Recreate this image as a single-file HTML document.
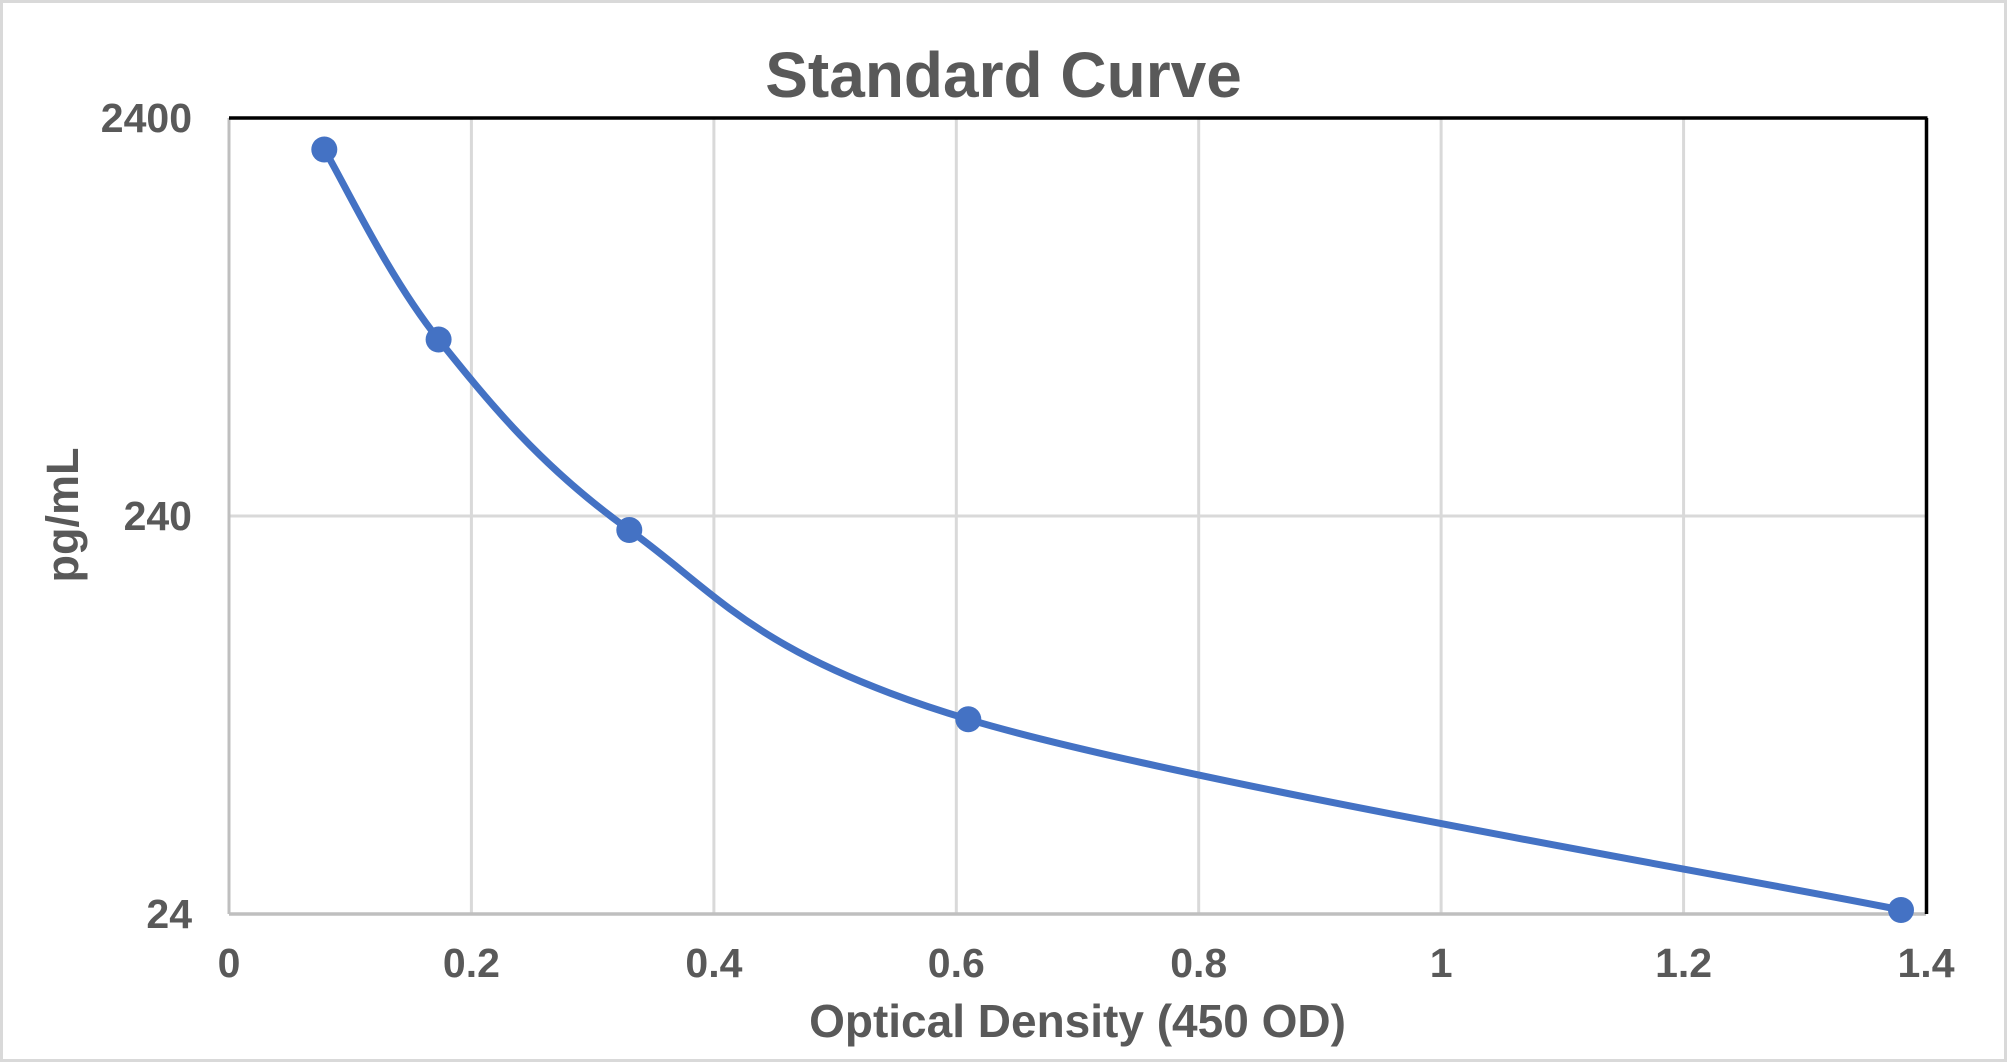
<!DOCTYPE html>
<html>
<head>
<meta charset="utf-8">
<style>
  html, body { margin: 0; padding: 0; background: #fff; }
  svg { display: block; }
  text { font-family: "Liberation Sans", Arial, sans-serif; font-weight: bold; fill: #595959; }
</style>
</head>
<body>
<svg width="2007" height="1062" viewBox="0 0 2007 1062" xmlns="http://www.w3.org/2000/svg">
  <rect x="0" y="0" width="2007" height="1062" fill="#ffffff"/>
  <rect x="1.5" y="1.5" width="2004" height="1059" fill="none" stroke="#d9d9d9" stroke-width="3"/>

  <!-- Title -->
  <text x="1003.5" y="97" font-size="64" text-anchor="middle">Standard Curve</text>

  <!-- vertical gridlines -->
  <g stroke="#d9d9d9" stroke-width="3">
    <line x1="471.4" y1="118" x2="471.4" y2="914"/>
    <line x1="713.9" y1="118" x2="713.9" y2="914"/>
    <line x1="956.3" y1="118" x2="956.3" y2="914"/>
    <line x1="1198.7" y1="118" x2="1198.7" y2="914"/>
    <line x1="1441.1" y1="118" x2="1441.1" y2="914"/>
    <line x1="1683.6" y1="118" x2="1683.6" y2="914"/>
    <!-- horizontal gridline at 240 -->
    <line x1="229" y1="516" x2="1926" y2="516"/>
  </g>

  <!-- axes -->
  <line x1="229" y1="118" x2="229" y2="914" stroke="#bfbfbf" stroke-width="3"/>
  <line x1="229" y1="914" x2="1926" y2="914" stroke="#bfbfbf" stroke-width="3.5"/>
  <line x1="229" y1="118" x2="1927.5" y2="118" stroke="#000" stroke-width="3.5"/>
  <line x1="1926.5" y1="118" x2="1926.5" y2="914" stroke="#000" stroke-width="3.5"/>

  <!-- Y tick labels -->
  <text x="192" y="132" font-size="41" text-anchor="end">2400</text>
  <text x="192" y="530" font-size="41" text-anchor="end">240</text>
  <text x="192" y="928" font-size="41" text-anchor="end">24</text>

  <!-- X tick labels -->
  <g font-size="41" text-anchor="middle">
    <text x="229" y="977">0</text>
    <text x="471.4" y="977">0.2</text>
    <text x="713.9" y="977">0.4</text>
    <text x="956.3" y="977">0.6</text>
    <text x="1198.7" y="977">0.8</text>
    <text x="1441.1" y="977">1</text>
    <text x="1683.6" y="977">1.2</text>
    <text x="1926" y="977">1.4</text>
  </g>

  <!-- Axis titles -->
  <text x="1077.5" y="1037" font-size="46" text-anchor="middle">Optical Density (450 OD)</text>
  <text transform="translate(78,515) rotate(-90)" font-size="45" text-anchor="middle">pg/mL</text>

  <!-- Curve -->
  <path d="M324.3,149.5 C343.35,181.17 387.77,276.08 438.6,339.5 C489.43,402.92 541.02,466.7 629.3,530 C717.58,593.3 756.35,655.97 968.3,719.3 C1180.25,782.63 1745.55,878.22 1901,910"
        fill="none" stroke="#4472c4" stroke-width="7" stroke-linecap="round" stroke-linejoin="round"/>

  <!-- Markers -->
  <g fill="#4472c4">
    <circle cx="324.3" cy="149.5" r="13"/>
    <circle cx="438.6" cy="339.5" r="13"/>
    <circle cx="629.3" cy="530" r="13"/>
    <circle cx="968.3" cy="719.3" r="13"/>
    <circle cx="1901" cy="910" r="13"/>
  </g>
</svg>
</body>
</html>
